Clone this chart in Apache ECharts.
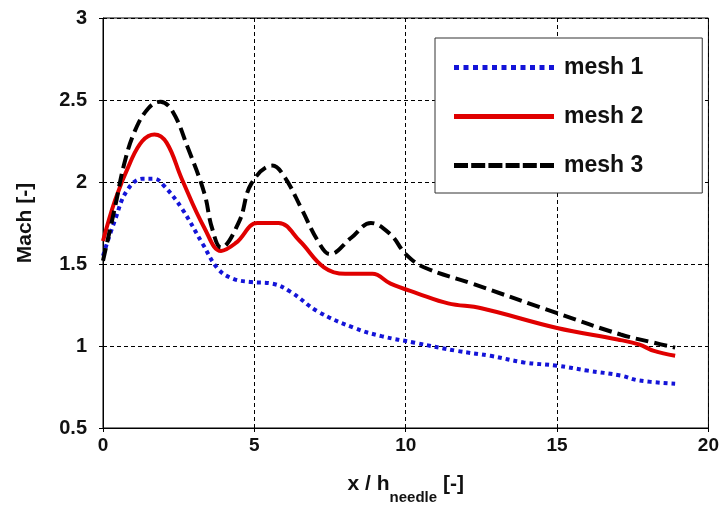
<!DOCTYPE html>
<html>
<head>
<meta charset="utf-8">
<script src="https://cdn.jsdelivr.net/npm/echarts@6/dist/echarts.min.js"></script>
<style>
html, body { margin: 0; padding: 0; background: #fff; }
#chart { width: 722px; height: 515px; }
</style>
</head>
<body>
<div id="chart"></div>
<script>
// values
var seriesNames = ["mesh 1", "mesh 2", "mesh 3"];

var mesh1X = [0, 0.4, 0.8, 1.3, 1.7, 2.0, 2.6, 3.3, 3.8, 4.3, 4.9, 5.6, 6.2, 7.1, 8.3, 9.2, 10.3, 11.7, 12.8, 13.9, 15.0, 16.0, 17.1, 17.7, 18.9];
var mesh1Y = [1.55, 1.77, 1.95, 2.02, 2.02, 1.98, 1.84, 1.62, 1.47, 1.41, 1.39, 1.38, 1.33, 1.21, 1.11, 1.06, 1.02, 0.97, 0.94, 0.90, 0.88, 0.85, 0.82, 0.79, 0.77];

var mesh2X = [0, 0.4, 0.9, 1.3, 1.7, 2.1, 2.6, 3.35, 3.9, 4.4, 5.1, 5.8, 6.5, 7.3, 8.0, 8.9, 9.5, 10.4, 11.4, 12.5, 15.0, 17.0, 17.7, 18.2, 18.9];
var mesh2Y = [1.64, 1.89, 2.12, 2.25, 2.29, 2.24, 2.02, 1.72, 1.58, 1.63, 1.75, 1.75, 1.64, 1.48, 1.44, 1.44, 1.38, 1.32, 1.26, 1.23, 1.11, 1.04, 1.01, 0.97, 0.94];

var mesh3X = [0, 0.4, 0.7, 1.05, 1.5, 1.9, 2.3, 2.8, 3.35, 3.6, 3.9, 4.5, 4.9, 5.6, 6.0, 6.55, 7.1, 7.5, 8.2, 8.85, 9.5, 10.0, 10.6, 12.2, 15.0, 17.1, 18.2, 18.9];
var mesh3Y = [1.52, 1.85, 2.11, 2.31, 2.45, 2.49, 2.43, 2.21, 1.93, 1.72, 1.60, 1.76, 1.99, 2.10, 2.03, 1.84, 1.64, 1.56, 1.66, 1.75, 1.68, 1.56, 1.48, 1.38, 1.20, 1.07, 1.02, 0.99];

function zip(xs, ys) {
    return xs.map(function (x, i) { return [x, ys[i]]; });
}

// legend icons drawn as paths in a 100 x 5 box
function dashPath(n, len, period) {
    var p = "path://";
    for (var i = 0; i < n; i++) {
        var x = i * period;
        p += "M" + x + ",0h" + len + "v5h-" + len + "Z";
    }
    return p;
}
var icons = [dashPath(11, 5, 9.5), "path://M0,0h100v5h-100Z", dashPath(6, 14, 17.2)];

var font = "Liberation Sans";
var myChart = echarts.init(document.getElementById("chart"));
var option = {
    animation: false,
    backgroundColor: "#fff",
    grid: {
        left: 103,
        right: 8,
        top: 18,
        bottom: 87,
        show: true,
        borderColor: "#000",
        borderWidth: 1,
        backgroundColor: "transparent"
    },
    legend: {
        orient: "vertical",
        left: 435,
        top: 38,
        data: seriesNames.map(function (n, i) { return { name: n, icon: icons[i] }; }),
        backgroundColor: "#fff",
        borderColor: "#333",
        borderWidth: 1,
        borderRadius: 0,
        padding: [18, 59, 16, 19],
        itemWidth: 100,
        itemHeight: 5,
        itemGap: 26,
        textStyle: {
            fontFamily: font,
            fontWeight: "bold",
            fontSize: 23,
            color: "#111",
            padding: [0, 0, 0, 5]
        }
    },
    xAxis: {
        type: "value",
        min: 0,
        max: 20,
        interval: 5,
        name: "{a|x / h}{b|needle}{a| [-]}",
        nameLocation: "middle",
        nameGap: 46,
        nameTextStyle: {
            rich: {
                a: { fontFamily: font, fontWeight: "bold", fontSize: 21, color: "#111", verticalAlign: "top", lineHeight: 24 },
                b: { fontFamily: font, fontWeight: "bold", fontSize: 15, color: "#111", verticalAlign: "top", padding: [16, 0, 0, 0], lineHeight: 24 }
            }
        },
        axisLine: { lineStyle: { color: "#000", width: 1 } },
        axisTick: { show: true, length: 4, lineStyle: { color: "#000" } },
        axisLabel: { fontFamily: font, fontWeight: "bold", fontSize: 19, color: "#111", margin: 8 },
        splitLine: { show: true, lineStyle: { color: "#000", type: [4, 3], width: 1 } }
    },
    yAxis: {
        type: "value",
        min: 0.5,
        max: 3,
        interval: 0.5,
        name: "Mach [-]",
        nameLocation: "middle",
        nameGap: 67,
        nameTextStyle: { fontFamily: font, fontWeight: "bold", fontSize: 21, color: "#111" },
        axisLine: { show: true, lineStyle: { color: "#000", width: 1 } },
        axisTick: { show: true, length: 4, lineStyle: { color: "#000" } },
        axisLabel: { fontFamily: font, fontWeight: "bold", fontSize: 20, color: "#111", margin: 16 },
        splitLine: { show: true, lineStyle: { color: "#000", type: [4, 3], width: 1 } }
    },
    series: [{
        name: seriesNames[0],
        type: "line",
        data: zip(mesh1X, mesh1Y),
        smooth: 0.4,
        showSymbol: false,
        symbol: "none",
        lineStyle: { color: "#1414d8", width: 4, type: [4, 4] },
        itemStyle: { color: "#1414d8" }
    }, {
        name: seriesNames[1],
        type: "line",
        data: zip(mesh2X, mesh2Y),
        smooth: 0.4,
        showSymbol: false,
        symbol: "none",
        lineStyle: { color: "#e00000", width: 4, type: "solid" },
        itemStyle: { color: "#e00000" }
    }, {
        name: seriesNames[2],
        type: "line",
        data: zip(mesh3X, mesh3Y),
        smooth: 0.4,
        showSymbol: false,
        symbol: "none",
        lineStyle: { color: "#000", width: 4, type: [13, 6] },
        itemStyle: { color: "#000" }
    }]
};
myChart.setOption(option);
</script>
</body>
</html>
